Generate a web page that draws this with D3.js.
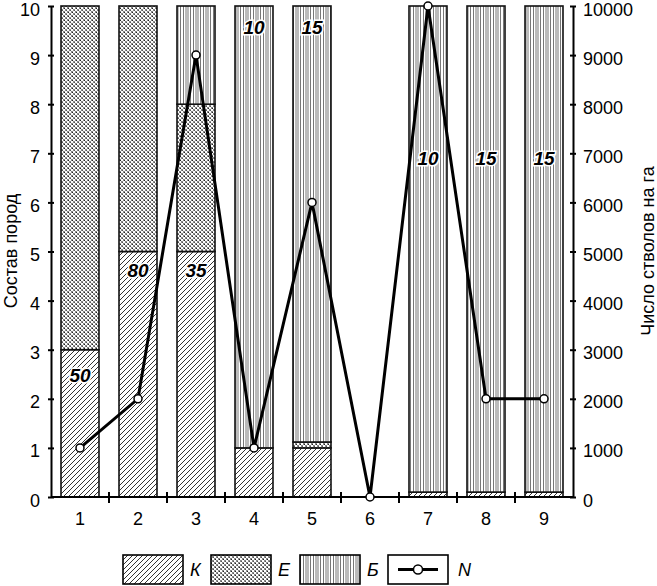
<!DOCTYPE html>
<html><head><meta charset="utf-8">
<script src="https://cdn.jsdelivr.net/npm/d3@7"></script>
<style>body{margin:0;background:#fff}svg{display:block}svg text{font-family:"Liberation Sans",Arial,sans-serif}</style>
</head><body>
<svg id="c" width="657" height="586"></svg>
<script>
const categories = ["1","2","3","4","5","6","7","8","9"];
const valuesK = [3, 5, 5, 1, 1, 0, 0.1, 0.1, 0.1];
const valuesE = [7, 5, 3, 0, 0.12, 0, 0, 0, 0];
const valuesB = [0, 0, 2, 9, 8.88, 0, 9.9, 9.9, 9.9];
const valuesN = [1000, 2000, 9000, 1000, 6000, 0, 10000, 2000, 2000];
const barLabels = ["50", "80", "35", "10", "15", "", "10", "15", "15"];
const barLabelAt = [2.48, 4.62, 4.62, 9.57, 9.57, 0, 6.9, 6.9, 6.9];
const leftTicks = [0,1,2,3,4,5,6,7,8,9,10];
const rightTicks = [0,1000,2000,3000,4000,5000,6000,7000,8000,9000,10000];
const seriesNames = ["К", "Е", "Б", "N"];
const leftTitle = "Состав пород";
const rightTitle = "Число стволов на га";

const svg = d3.select("#c");
const defs = svg.append("defs");
// patterns
const pK = defs.append("pattern").attr("id","pK").attr("patternUnits","userSpaceOnUse").attr("width",5).attr("height",5);
pK.append("rect").attr("width",5).attr("height",5).attr("fill","#fff");
pK.append("path").attr("d","M-1,6 L6,-1 M-1,1 L1,-1 M4,6 L6,4").attr("stroke","#333").attr("stroke-width",1);
const pE = defs.append("pattern").attr("id","pE").attr("patternUnits","userSpaceOnUse").attr("width",4).attr("height",4);
pE.append("rect").attr("width",4).attr("height",4).attr("fill","#fff");
[[0,0],[1,1],[2,2],[3,3],[3,0],[2,1],[1,2],[0,3]].forEach(([a,b])=>
  pE.append("rect").attr("x",a).attr("y",b).attr("width",1).attr("height",1).attr("fill","#888").attr("shape-rendering","crispEdges"));
pE.append("rect").attr("x",0).attr("y",0).attr("width",1).attr("height",1).attr("fill","#222").attr("shape-rendering","crispEdges");
pE.append("rect").attr("x",2).attr("y",2).attr("width",1).attr("height",1).attr("fill","#555").attr("shape-rendering","crispEdges");
const pB = defs.append("pattern").attr("id","pB").attr("patternUnits","userSpaceOnUse").attr("width",10).attr("height",10);
pB.append("rect").attr("width",10).attr("height",10).attr("fill","#fff");
pB.append("path").attr("d","M0.5,0V10 M3.5,0V10 M6,0V10 M8,0V10").attr("stroke","#777").attr("stroke-width",1);

const x = d3.scaleBand().domain(categories).range([51,573]).paddingInner(0.345).paddingOuter(0.1725);
const y = d3.scaleLinear().domain([0,10]).range([497,6]);
const y2 = d3.scaleLinear().domain([0,10000]).range([497,6]);

// stacked bars
const rows = categories.map((c,i)=>({cat:c, K:valuesK[i], E:valuesE[i], B:valuesB[i]}));
const stack = d3.stack().keys(["K","E","B"])(rows);
const fills = {K:"url(#pK)", E:"url(#pE)", B:"url(#pB)"};
stack.forEach(layer=>{
  svg.append("g").selectAll("rect").data(layer.filter(d=>d[1]-d[0]>0)).join("rect")
    .attr("x",d=>x(d.data.cat)).attr("width",x.bandwidth())
    .attr("y",d=>y(d[1])).attr("height",d=>y(d[0])-y(d[1]))
    .attr("fill",fills[layer.key]).attr("stroke","#111").attr("stroke-width",1.6);
});

// axes
const fs = "18px";
const gl = svg.append("g").attr("transform","translate(51,0)").call(d3.axisLeft(y).tickValues(leftTicks).tickSize(3).tickSizeOuter(0).tickPadding(8));
gl.selectAll(".tick line").attr("x2",3).attr("x1",-3);
const gr = svg.append("g").attr("transform","translate(573,0)").call(d3.axisRight(y2).tickValues(rightTicks).tickFormat(d3.format("d")).tickSize(3).tickSizeOuter(0).tickPadding(7));
gr.selectAll(".tick line").attr("x1",-3).attr("x2",3);
const gb = svg.append("g").attr("transform","translate(0,497)").call(d3.axisBottom(x).tickSize(0).tickPadding(15));
// boundary ticks on x axis
svg.append("g").selectAll("line").data(categories.slice(1)).join("line")
  .attr("x1",d=>x(d)-x.step()*x.paddingInner()/2).attr("x2",d=>x(d)-x.step()*x.paddingInner()/2)
  .attr("y1",492).attr("y2",503).attr("stroke","#000").attr("stroke-width",2);
[gl,gr,gb].forEach(g=>{
  g.attr("font-family",null);
  g.select(".domain").attr("stroke","#000").attr("stroke-width",2);
  g.selectAll(".tick line").attr("stroke","#000").attr("stroke-width",2);
  g.selectAll("text").attr("font-size",fs).attr("fill","#000");
});
gb.select(".domain").attr("d","M51,0H573");
gl.selectAll(".tick text").attr("dy","0.5em");
gr.selectAll(".tick text").attr("dy","0.5em");

// titles
svg.append("text").attr("transform","translate(17,251) rotate(-90)").attr("text-anchor","middle")
  .attr("font-size","18px").text(leftTitle);
svg.append("text").attr("transform","translate(654,251) rotate(-90)").attr("text-anchor","middle")
  .attr("font-size","18px").text(rightTitle);

// line N
const line = d3.line().x((d,i)=>x(categories[i])+x.bandwidth()/2).y(d=>y2(d));
svg.append("path").datum(valuesN).attr("d",line).attr("fill","none").attr("stroke","#000").attr("stroke-width",3).attr("stroke-linejoin","miter");
svg.append("g").selectAll("circle").data(valuesN).join("circle")
  .attr("cx",(d,i)=>x(categories[i])+x.bandwidth()/2).attr("cy",d=>y2(d)).attr("r",4)
  .attr("fill","#fff").attr("stroke","#000").attr("stroke-width",1.5);

// bar labels
svg.append("g").selectAll("text").data(barLabels.map((t,i)=>({t,i})).filter(d=>d.t)).join("text")
  .attr("x",d=>x(categories[d.i])+x.bandwidth()/2).attr("y",d=>y(barLabelAt[d.i])+7)
  .attr("text-anchor","middle").attr("font-size","19px").attr("font-weight","bold").attr("font-style","italic")
  .attr("stroke","#fff").attr("stroke-width",3).attr("paint-order","stroke").attr("fill","#000")
  .text(d=>d.t);

// legend
const legX = [123, 211, 300, 388];
const leg = svg.append("g");
seriesNames.forEach((n,i)=>{
  const g = leg.append("g").attr("transform",`translate(${legX[i]},555)`);
  g.append("rect").attr("width",60).attr("height",29)
    .attr("fill", i===0?"url(#pK)":i===1?"url(#pE)":i===2?"url(#pB)":"#fff")
    .attr("stroke","#000").attr("stroke-width",1.6);
  if(i===3){
    g.append("line").attr("x1",10).attr("x2",50).attr("y1",14.5).attr("y2",14.5).attr("stroke","#000").attr("stroke-width",3);
    g.append("circle").attr("cx",30).attr("cy",14.5).attr("r",4.5).attr("fill","#fff").attr("stroke","#000").attr("stroke-width",1.5);
  }
  g.append("text").attr("x",i===3?70:67).attr("y",21).attr("font-size","18px").attr("font-style","italic").text(n);
});
</script>
</body></html>
